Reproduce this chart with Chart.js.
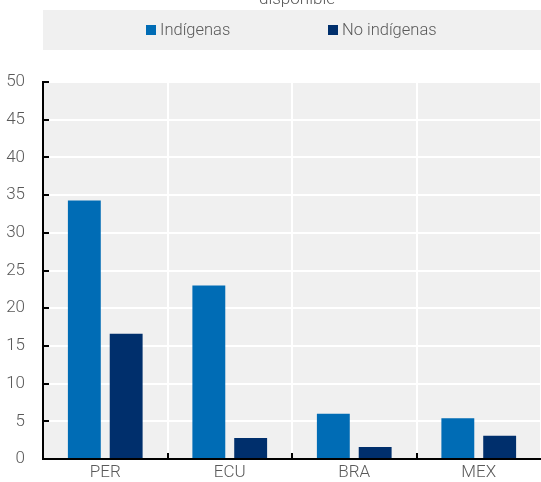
<!DOCTYPE html>
<html>
<head>
<meta charset="utf-8">
<script src="https://cdn.jsdelivr.net/npm/chart.js@4.4.1/dist/chart.umd.min.js"></script>
<style>
  html, body { margin: 0; padding: 0; background: #fff; overflow: hidden; }
  #wrap { position: relative; width: 541px; height: 482px; }
</style>
</head>
<body>
<div id="wrap"><canvas id="myChart"></canvas></div>
<script>
const FONT = "Roboto, 'DejaVu Sans Condensed', sans-serif"
const TEXT = '#595959'

const categories = ['PER', 'ECU', 'BRA', 'MEX']
const indigenas = [34.3, 23.0, 6.0, 5.4]
const noIndigenas = [16.6, 2.8, 1.6, 3.1]
const seriesNames = ['Indígenas', 'No indígenas']
const seriesColors = ['#006cb5', '#002f6c']
const yTicks = [0, 5, 10, 15, 20, 25, 30, 35, 40, 45, 50]
const titleTail = 'disponible'

// grey plot background, legend band and the cut-off title line
const backdrop = {
    id: 'backdrop',
    beforeDraw(chart) {
        const { ctx, chartArea } = chart
        ctx.save()
        ctx.fillStyle = '#f0f0f0'
        ctx.fillRect(chartArea.left, chartArea.top, chartArea.right - chartArea.left, chartArea.bottom - chartArea.top)
        ctx.fillRect(chartArea.left, 10, chart.width - chartArea.left, 40)

        ctx.fillStyle = TEXT
        ctx.font = '300 17px ' + FONT
        ctx.textAlign = 'center'
        ctx.textBaseline = 'alphabetic'
        ctx.fillText(titleTail, 297, 4)

        const itemX = [146, 328]
        ctx.font = '300 16.5px ' + FONT
        ctx.textAlign = 'left'
        ctx.textBaseline = 'middle'
        chart.data.datasets.forEach((ds, i) => {
            ctx.fillStyle = ds.backgroundColor
            ctx.fillRect(itemX[i], 25, 10, 10)
            ctx.fillStyle = TEXT
            ctx.fillText(ds.label, itemX[i] + 14, 31)
        })
        ctx.restore()
    },
    // inward tick marks on both axes
    afterDraw(chart) {
        const { ctx, chartArea, scales } = chart
        ctx.save()
        ctx.strokeStyle = '#000'
        ctx.lineWidth = 2
        ctx.beginPath()
        yTicks.forEach(v => {
            const y = Math.round(scales.y.getPixelForValue(v))
            ctx.moveTo(chartArea.left, y)
            ctx.lineTo(chartArea.left + 6, y)
        })
        for (let i = 1; i < categories.length; i++) {
            const x = Math.round((scales.x.getPixelForTick(i - 1) + scales.x.getPixelForTick(i)) / 2)
            ctx.moveTo(x, chartArea.bottom)
            ctx.lineTo(x, chartArea.bottom - 6)
        }
        ctx.stroke()
        ctx.restore()
    }
}

const ctx = document.getElementById('myChart')
new Chart(ctx, {
    type: 'bar',
    data: {
        labels: categories,
        datasets: [
            { label: seriesNames[0], data: indigenas, backgroundColor: seriesColors[0] },
            { label: seriesNames[1], data: noIndigenas, backgroundColor: seriesColors[1] }
        ]
    },
    options: {
        responsive: true,
        maintainAspectRatio: false,
        animation: false,
        devicePixelRatio: 1,
        categoryPercentage: 0.672,
        barPercentage: 0.786,
        layout: { padding: { top: 82, left: 0, right: 0, bottom: 0 } },
        plugins: {
            legend: { display: false },
            title: { display: false },
            tooltip: { enabled: false }
        },
        scales: {
            x: {
                grid: { color: '#ffffff', lineWidth: 2, drawTicks: false, offset: true },
                border: { display: true, color: '#000', width: 2 },
                ticks: { color: TEXT, font: { family: FONT, size: 17, weight: '300' }, padding: 4 },
                afterFit(scale) {
                    scale.height = 23
                    scale.paddingBottom = 0
                }
            },
            y: {
                min: 0,
                max: 50,
                grid: { color: '#ffffff', lineWidth: 2, drawTicks: false },
                border: { display: true, color: '#000', width: 2 },
                ticks: {
                    stepSize: 5,
                    color: TEXT,
                    font: { family: FONT, size: 17, weight: '300' },
                    padding: 18
                },
                afterFit(scale) {
                    scale.width = 43
                    scale.paddingBottom = 0
                    scale.paddingTop = 0
                }
            }
        }
    },
    plugins: [backdrop]
})
</script>
</body>
</html>
